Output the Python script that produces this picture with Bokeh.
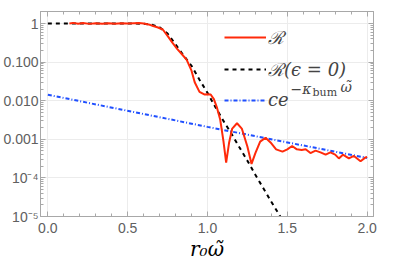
from bokeh.plotting import figure
from bokeh.models import (Range1d, FixedTicker, LogAxis, LinearAxis, Legend, LegendItem,
                          Label, CustomLabelingPolicy)
from bokeh.embed import file_html
from bokeh.resources import INLINE

# --- data ---
r_x = [0.135, 0.16, 0.19, 0.22, 0.26, 0.30, 0.34, 0.38, 0.42, 0.46, 0.50, 0.54, 0.57,
       0.60, 0.63, 0.66, 0.69, 0.72, 0.75, 0.78, 0.81, 0.84, 0.87, 0.90, 0.92, 0.95,
       0.98, 1.00, 1.02, 1.04, 1.06, 1.08, 1.10, 1.117, 1.135, 1.155, 1.185, 1.215,
       1.25, 1.276, 1.30, 1.33, 1.364, 1.395, 1.43, 1.47, 1.50, 1.53, 1.56, 1.59,
       1.615, 1.645, 1.677, 1.708, 1.74, 1.77, 1.80, 1.823, 1.848, 1.886, 1.917,
       1.959, 1.99, 2.0]
r_y = [1.0, 1.04, 0.99, 1.03, 0.98, 1.02, 0.99, 1.02, 0.99, 1.01, 1.0, 1.02, 1.03,
       1.0, 0.95, 0.86, 0.79, 0.70, 0.48, 0.32, 0.22, 0.16, 0.115, 0.06, 0.03, 0.017,
       0.0145, 0.0148, 0.0145, 0.011, 0.0065, 0.0032, 0.0009, 0.00025, 0.0008, 0.0019,
       0.0026, 0.0019, 0.00065, 0.00023, 0.00044, 0.00087, 0.0011, 0.00083, 0.00055,
       0.00048, 0.00055, 0.00067, 0.00055, 0.00053, 0.00055, 0.00044, 0.00051,
       0.00046, 0.0004, 0.00046, 0.0004, 0.00032, 0.0004, 0.00032, 0.00037, 0.00027,
       0.00034, 0.00035]

b_x = [0.0, 0.1, 0.2, 0.3, 0.4, 0.5, 0.6, 0.65, 0.7, 0.75, 0.8, 0.85, 0.9, 0.95, 1.0,
       1.05, 1.1, 1.15, 1.2, 1.25, 1.3, 1.35, 1.4, 1.45, 1.47]
b_y = [1.0, 1.0, 1.0, 1.0, 1.0, 1.0, 0.99, 0.93, 0.8, 0.55, 0.29, 0.15, 0.08, 0.035,
       0.016, 0.0068, 0.003, 0.0014, 0.00062, 0.00028, 0.00012, 5.4e-5, 2.4e-5, 1.1e-5,
       8e-6]

e_x = [0.0, 1.0, 2.0]
e_y = [0.0143, 0.0021, 0.00033]

x_ticks = [0.0, 0.5, 1.0, 1.5, 2.0]
x_tick_labels = ["0.0", "0.5", "1.0", "1.5", "2.0"]
y_ticks = [1e-5, 1e-4, 1e-3, 1e-2, 1e-1, 1.0]
y_tick_labels = ["10⁻⁵", "10⁻⁴", "0.001", "0.010", "0.100", "1"]
x_label = "r₀ω̃"

RED = "#ff2a0a"
BLUE = "#1f4fff"
FRAME = "#a8a8a8"
TICKTXT = "#606060"
GRID = "#ececec"

p = figure(frame_width=333, frame_height=205, y_axis_type="log",
           x_range=Range1d(-0.046, 2.04), y_range=Range1d(1e-5, 2.05),
           output_backend="svg", toolbar_location=None,
           min_border_left=37, min_border_right=22, min_border_top=0, min_border_bottom=0)
p.background_fill_color = "white"
p.border_fill_color = "white"
p.outline_line_color = FRAME

minor_y = [m * 10.0 ** e for e in range(-5, 0) for m in range(2, 10)]
minor_y += [2.0]
minor_x = [round(0.1 * i, 2) for i in range(0, 21) if i % 5 != 0]

for ax in (p.xaxis[0], p.yaxis[0]):
    ax.axis_line_color = FRAME
    ax.major_tick_line_color = FRAME
    ax.minor_tick_line_color = FRAME
    ax.major_tick_in = 5
    ax.major_tick_out = 0
    ax.minor_tick_in = 3
    ax.minor_tick_out = 0
    ax.major_label_text_font = "Liberation Sans"
    ax.major_label_text_font_size = "14px"
    ax.major_label_text_color = TICKTXT

p.xaxis[0].ticker = FixedTicker(ticks=x_ticks, minor_ticks=minor_x)
p.xaxis[0].major_label_overrides = dict(zip(x_ticks, x_tick_labels))
p.xaxis[0].major_label_standoff = 6
p.xaxis[0].axis_label = x_label
p.xaxis[0].axis_label_text_font = "DejaVu Serif"
p.xaxis[0].axis_label_text_font_style = "italic"
p.xaxis[0].axis_label_text_font_size = "20px"
p.xaxis[0].axis_label_text_color = "black"
p.xaxis[0].axis_label_standoff = 1

p.yaxis[0].ticker = FixedTicker(ticks=y_ticks, minor_ticks=minor_y)
p.yaxis[0].major_label_overrides = dict(zip(y_ticks, y_tick_labels))
p.yaxis[0].major_label_standoff = 2

# mirrored frame ticks (no labels)
ra = LogAxis(ticker=FixedTicker(ticks=y_ticks, minor_ticks=minor_y))
ta = LinearAxis(ticker=FixedTicker(ticks=x_ticks, minor_ticks=minor_x))
for ax in (ra, ta):
    ax.axis_line_color = FRAME
    ax.major_tick_line_color = FRAME
    ax.minor_tick_line_color = FRAME
    ax.major_tick_in = 5
    ax.major_tick_out = 0
    ax.minor_tick_in = 3
    ax.minor_tick_out = 0
    ax.major_label_standoff = 0
    ax.major_label_policy = CustomLabelingPolicy(code="for (const i of []) yield i")
p.add_layout(ra, "right")
p.add_layout(ta, "above")

p.xgrid.ticker = FixedTicker(ticks=x_ticks)
p.ygrid.ticker = FixedTicker(ticks=y_ticks)
p.xgrid.grid_line_color = GRID
p.ygrid.grid_line_color = GRID

l_e = p.line(e_x, e_y, line_color=BLUE, line_width=2, line_dash="4 2 1 2")
l_b = p.line(b_x, b_y, line_color="black", line_width=2, line_dash="4 4")
l_r = p.line(r_x, r_y, line_color=RED, line_width=2)

legend = Legend(items=[LegendItem(label="ℛ", renderers=[l_r]),
                       LegendItem(label="ℛ(ϵ = 0)", renderers=[l_b]),
                       LegendItem(label="ce", renderers=[l_e])],
                location=(184, 106), glyph_width=42, glyph_height=20, label_height=20,
                label_standoff=2, spacing=8, padding=0, margin=0,
                border_line_alpha=0, background_fill_alpha=0,
                label_text_font="DejaVu Serif", label_text_font_size="18px",
                label_text_font_style="italic")
p.add_layout(legend, "center")

sup_font = "DejaVu Serif"
p.add_layout(Label(x=250, y=128, x_units="screen", y_units="screen", text="−κ",
                   text_font=sup_font, text_font_style="italic", text_font_size="14px",
                   text_baseline="middle"))
p.add_layout(Label(x=272, y=124, x_units="screen", y_units="screen", text="bum",
                   text_font=sup_font, text_font_size="11px", text_baseline="middle"))
p.add_layout(Label(x=300, y=130, x_units="screen", y_units="screen", text="ω̃",
                   text_font=sup_font, text_font_style="italic", text_font_size="14px",
                   text_baseline="middle"))

open("out.html", "w").write(file_html(p, INLINE))
